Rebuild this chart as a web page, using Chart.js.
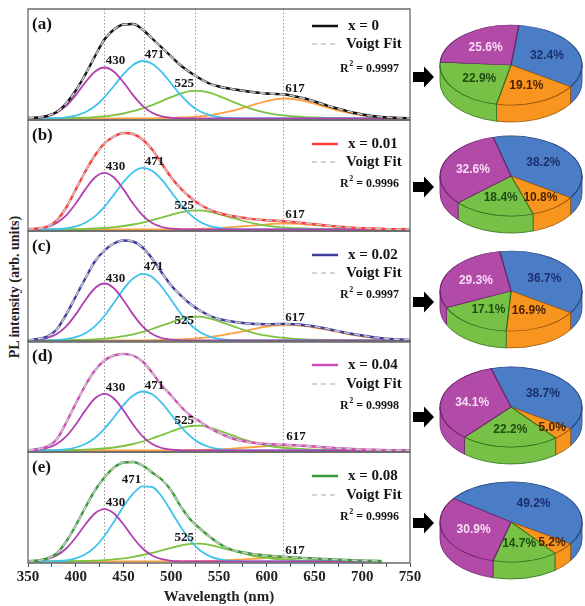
<!DOCTYPE html>
<html>
<head>
<meta charset="utf-8">
<script src="https://cdn.jsdelivr.net/npm/chart.js@4.4.0/dist/chart.umd.min.js"></script>
<style>
  html, body { margin: 0; padding: 0; background: #fff; }
  body { width: 585px; height: 606px; position: relative; overflow: hidden; }
  canvas { position: absolute; }
  #ytitle {
    position: absolute; left: 15px; top: 287px;
    transform: translate(-50%, -50%) rotate(-90deg);
    font: bold 14px "Liberation Serif", "Times New Roman", serif;
    color: #222; white-space: nowrap;
  }
</style>
</head>
<body>
<div id="ytitle">PL intensity (arb. units)</div>
<script>
// --- Data ---
const wavelength = [350,360,370,380,390,400,410,420,430,440,450,460,470,480,490,500,510,520,530,540,
  550,560,570,580,590,600,610,620,630,640,650,660,670,680,690,700,710,720,730,740,750];

const panelTags = ['(a)', '(b)', '(c)', '(d)', '(e)'];
const sampleNames = ['x = 0', 'x = 0.01', 'x = 0.02', 'x = 0.04', 'x = 0.08'];
const rSquared = ['0.9997', '0.9996', '0.9997', '0.9998', '0.9996'];
const peakNames = ['430', '471', '525', '617'];
const peakPos = [430, 471, 525, 617];

// (a) x = 0
const mainA = [0.5,1,2.5,6.5,15,28,44,62,79,89, 94,94.5,89,80,71,62,53,46,40,35, 32,30,28.5,27,26,25,24.5,24,22,20, 17,14,11,8.5,6,4,2.5,1.5,1,0.5, 0.3];
const p430A = [0.2,0.7,2.2,5.8,12.7,23.4,36.1,46.8,51,46.8, 36.1,23.4,12.7,5.8,2.2,0.7,0.2,0,0,0, 0,0,0,0,0,0,0,0,0,0, 0,0,0,0,0,0,0,0,0,0, 0];
const b471A = [0,0,0,0.4,1.2,2.9,6.3,12.2,21.2,32.5, 44.3,53.5,57.5,54.8,46.4,34.9,23.3,13.8,7.2,3.4, 1.4,0.5,0.2,0,0,0,0,0,0,0, 0,0,0,0,0,0,0,0,0,0, 0];
const g525A = [0,0,0,0,0.3,0.6,0.8,1.4,2.2,3.4, 5,7.3,10.1,13.4,17.4,21.3,24.9,27.4,27.7,25.8, 22.4,18.5,14.6,10.9,7.8,5.6,3.9,2.8,2,1.4, 1,0.7,0.4,0.3,0.1,0,0,0,0,0, 0];
const o617A = [0,0,0,0,0,0,0,0,0,0, 0,0,0,0.2,0.4,0.6,1,1.4,2.2,3.2, 4.8,6.8,9.2,12,14.8,17.4,19.4,20,19.2,17.4, 14.8,12,9.2,6.8,4.8,3.2,2,1.2,0.8,0.4, 0.2];

// (b) x = 0.01
const mainB = [0.3,1,3,9,22,40,58,74,86,93, 96.5,95.5,90,80,66,52,41,32,25,20, 16.5,14,12.5,11,10,9.2,8.7,8,7.2,6.3, 5.3,4.3,3.4,2.6,1.9,1.4,1,0.7,0.4,0.2, 0.1];
const p430B = [0.2,0.8,2.5,6.5,14.1,26,40.1,52,56.7,52, 40.1,26,14.1,6.5,2.5,0.8,0.2,0,0,0, 0,0,0,0,0,0,0,0,0,0, 0,0,0,0,0,0,0,0,0,0, 0];
const b471B = [0,0,0,0.4,1.2,3.1,6.8,13.1,22.7,34.9, 47.5,57.4,61.7,58.8,49.8,37.5,25,14.8,7.8,3.6, 1.5,0.6,0.2,0,0,0,0,0,0,0, 0,0,0,0,0,0,0,0,0,0, 0];
const g525B = [0,0,0,0,0.2,0.4,0.6,1,1.5,2.3, 3.5,5,6.9,9.3,12,14.7,17.2,18.9,19.1,17.8, 15.4,12.7,10,7.5,5.4,3.9,2.7,1.9,1.4,1, 0.7,0.5,0.3,0.2,0.1,0,0,0,0,0, 0];
const o617B = [0,0,0,0,0,0,0,0,0,0, 0,0,0,0.1,0.1,0.2,0.3,0.4,0.7,1, 1.4,2,2.8,3.6,4.4,5.2,5.8,6,5.8,5.2, 4.4,3.6,2.8,2,1.4,1,0.6,0.4,0.2,0.1, 0.1];

// (c) x = 0.02
const mainC = [0.3,1.5,4,11,26,44,62,79,90,97, 100,99,93,82,68,55,45,36.5,30,25, 21.5,19.5,18,17,16.5,16.2,16.5,16.6,16.2,15.3, 14,12.3,10.3,8.3,6.5,5,3.5,2.4,1.5,1, 0.5];
const p430C = [0.2,0.8,2.5,6.5,14.2,26.1,40.3,52.3,57,52.3, 40.3,26.1,14.2,6.5,2.5,0.8,0.2,0,0,0, 0,0,0,0,0,0,0,0,0,0, 0,0,0,0,0,0,0,0,0,0, 0];
const b471C = [0,0,0,0.5,1.3,3.3,7.3,14.1,24.5,37.7, 51.4,62,66.7,63.6,53.8,40.5,27,16,8.4,3.9, 1.6,0.6,0.2,0,0,0,0,0,0,0, 0,0,0,0,0,0,0,0,0,0, 0];
const g525C = [0,0,0,0,0.2,0.5,0.7,1.2,1.9,2.9, 4.3,6.2,8.6,11.5,14.9,18.2,21.4,23.5,23.8,22.1, 19.2,15.8,12.5,9.4,6.7,4.8,3.4,2.4,1.7,1.2, 0.8,0.6,0.4,0.2,0.1,0,0,0,0,0, 0];
const o617C = [0,0,0,0,0,0,0,0,0,0, 0,0,0,0.3,0.5,0.8,1.2,1.7,2.5,3.4, 4.8,6.5,8.2,10.2,12.2,14,15.2,15.7,15.3,14.4, 13,11.3,9.4,7.5,5.7,4.2,2.9,1.9,1.2,0.7, 0.4];

// (d) x = 0.04
const mainD = [0.3,1.5,4,11,28,47,65,80,90,95, 96.5,95,89,78,65,55,44,35,29,22.5, 17.5,13.5,10.5,8.5,7.3,6.5,6,5.7,5.2,4.7, 4,3.3,2.6,2,1.5,1.1,0.8,0.5,0.3,0.2, 0.1];
const p430D = [0.2,0.8,2.5,6.5,14.1,26,40.1,52,56.7,52, 40.1,26,14.1,6.5,2.5,0.8,0.2,0,0,0, 0,0,0,0,0,0,0,0,0,0, 0,0,0,0,0,0,0,0,0,0, 0];
const b471D = [0,0,0,0.4,1.2,3,6.5,12.5,21.7,33.3, 45.4,54.9,59,56.2,47.6,35.8,23.9,14.2,7.4,3.5, 1.4,0.5,0.2,0,0,0,0,0,0,0, 0,0,0,0,0,0,0,0,0,0, 0];
const g525D = [0,0,0,0,0.3,0.5,0.8,1.3,2,3, 4.5,6.5,9,12,15.5,19,22.3,24.5,24.8,23, 20,16.5,13,9.8,7,5,3.5,2.5,1.8,1.3, 0.9,0.6,0.4,0.3,0.1,0,0,0,0,0, 0];
const o617D = [0,0,0,0,0,0,0,0,0,0, 0,0,0,0,0.1,0.1,0.2,0.3,0.5,0.8, 1.2,1.7,2.3,3,3.7,4.3,4.8,5,4.8,4.3, 3.7,3,2.3,1.7,1.2,0.8,0.5,0.3,0.2,0.1, 0];

// (e) x = 0.08 (measured range stops near 725 nm)
const mainE = [0.3,1,3,8,20,36,54,71,84,94, 99,99.5,96,89,82,71,55,42,33,25, 18,13,10,8.2,7,6,5.2,4.6,4,3.5, 3,2.5,2.1,1.7,1.3,1,0.7,0.5,null,null, null];
const p430E = [0.2,0.7,2.3,6,13,24,37,48,52.3,48, 37,24,13,6,2.3,0.7,0.2,0,0,0, 0,0,0,0,0,0,0,0,0,0, 0,0,0,0,0,0,0,0,null,null, null];
const b471E = [0,0,0,0.4,1.2,3.2,7.2,14.3,25.5,39.8, 55,67.8,75.2,74.5,65,50,34.5,21,11.3,5.4, 2.3,0.9,0.3,0,0,0,0,0,0,0, 0,0,0,0,0,0,0,0,null,null, null];
const g525E = [0,0,0,0,0.2,0.4,0.5,0.9,1.4,2.2, 3.2,4.7,6.5,8.6,11.2,13.7,16,17.6,17.8,16.6, 14.4,11.9,9.4,7,5,3.6,2.5,1.8,1.3,0.9, 0.6,0.5,0.3,0.2,0.1,0,0,0,null,null, null];
const o617E = [0,0,0,0,0,0,0,0,0,0, 0,0,0,0,0.1,0.1,0.2,0.3,0.4,0.6, 1,1.4,1.8,2.4,3,3.5,3.9,4,3.8,3.5, 3,2.4,1.8,1.4,1,0.6,0.4,0.2,null,null, null];

// Pie shares (%) per sample: 471 / 617 / 525 / 430 components
const pieBlue = [32.4, 38.2, 36.7, 38.7, 49.2];
const pieOrange = [19.1, 10.8, 16.9, 5.0, 5.2];
const pieGreen = [22.9, 18.4, 17.1, 22.2, 14.7];
const piePurple = [25.6, 32.6, 29.3, 34.1, 30.9];

// --- Styles / layout ---
const SERIF = '"Liberation Serif", "Times New Roman", serif';
const SANS = '"Liberation Sans", Arial, sans-serif';
const mainColors = ['#111111', '#ff3b3b', '#3c3c9e', '#d04cb8', '#3a9a3a'];
const compColors = ['#b040b0', '#3ec2ee', '#7cc342', '#ffa040'];
const panelTop = [9, 120, 231, 341, 452];
const legendRows = [[17, 35, 60], [24, 42, 64], [24, 42, 64], [24, 43, 65], [24, 43, 65]];
const labelDx = [[11, 11, -11, 12], [11, 11, -11, 12], [11, 10, -11, 12], [11, 11, -11, 13], [11, -12, -11, 12]];
const labelDy = [[-6.5, -6, -7.5, -9.5], [-6, -6, -5, -9], [-4.5, -7, 3.5, -7], [-6, -5.5, -5.5, -8.5], [-7, -7, -6.5, -6.5]];

const mainSeries = [mainA, mainB, mainC, mainD, mainE];
const compSeries = [
  [p430A, b471A, g525A, o617A],
  [p430B, b471B, g525B, o617B],
  [p430C, b471C, g525C, o617C],
  [p430D, b471D, g525D, o617D],
  [p430E, b471E, g525E, o617E]
];

function lineSet(values, color, width, order, dash) {
  return {
    data: values.map((v, i) => ({x: wavelength[i], y: v})),
    borderColor: color,
    borderWidth: width,
    borderDash: dash || [],
    pointRadius: 0,
    fill: false,
    cubicInterpolationMode: 'monotone',
    order: order
  };
}

const panelDeco = {
  id: 'panelDeco',
  beforeDatasetsDraw(chart) {
    const {ctx, chartArea: a, scales: {x}} = chart;
    ctx.save();
    ctx.strokeStyle = '#9a9a9a';
    ctx.lineWidth = 1;
    ctx.setLineDash([1.5, 2]);
    peakPos.forEach(p => {
      const px = Math.round(x.getPixelForValue(p)) + 0.5;
      ctx.beginPath();
      ctx.moveTo(px, a.top);
      ctx.lineTo(px, a.bottom);
      ctx.stroke();
    });
    ctx.restore();
  },
  afterDraw(chart, args, opts) {
    const i = opts.idx;
    const {ctx, chartArea: a, scales: {x, y}} = chart;
    ctx.save();
    // frame
    ctx.setLineDash([]);
    ctx.strokeStyle = '#6a6a6a';
    ctx.lineWidth = 1.3;
    ctx.beginPath();
    ctx.moveTo(a.left, a.top);
    ctx.lineTo(a.right, a.top);
    ctx.lineTo(a.right, a.bottom);
    ctx.lineTo(a.left, a.bottom);
    ctx.closePath();
    ctx.stroke();

    // panel tag
    ctx.fillStyle = '#151515';
    ctx.textBaseline = 'middle';
    ctx.textAlign = 'left';
    ctx.font = 'bold 17px ' + SERIF;
    ctx.fillText(panelTags[i], a.left + 4, a.top + 16);

    // peak labels above each component
    ctx.font = 'bold 13px ' + SERIF;
    ctx.textAlign = 'center';
    compSeries[i].forEach((vals, k) => {
      const peak = Math.max(...vals.filter(v => v !== null));
      const lx = x.getPixelForValue(peakPos[k]) + labelDx[i][k];
      const ly = y.getPixelForValue(peak) + labelDy[i][k];
      ctx.fillText(peakNames[k], lx, ly);
    });

    // legend
    const rows = legendRows[i].map(r => a.top + r);
    ctx.lineWidth = 2.5;
    ctx.strokeStyle = mainColors[i];
    ctx.beginPath(); ctx.moveTo(312, rows[0]); ctx.lineTo(338, rows[0]); ctx.stroke();
    ctx.lineWidth = 1.6;
    ctx.strokeStyle = '#c4c4c4';
    ctx.setLineDash([5, 4]);
    ctx.beginPath(); ctx.moveTo(312, rows[1]); ctx.lineTo(338, rows[1]); ctx.stroke();
    ctx.setLineDash([]);
    ctx.textAlign = 'left';
    ctx.font = 'bold 15px ' + SERIF;
    ctx.fillText(sampleNames[i], 348, rows[0]);
    ctx.fillText('Voigt Fit', 346, rows[1]);
    ctx.font = 'bold 12px ' + SERIF;
    let rx = 340;
    ctx.fillText('R', rx, rows[2]);
    rx += ctx.measureText('R').width + 0.5;
    ctx.font = 'bold 8px ' + SERIF;
    ctx.fillText('2', rx, rows[2] - 5);
    rx += ctx.measureText('2').width;
    ctx.font = 'bold 12px ' + SERIF;
    ctx.fillText(' = ' + rSquared[i], rx, rows[2]);
    ctx.restore();
  }
};

function addCanvas(left, top, w, h) {
  const c = document.createElement('canvas');
  c.width = w; c.height = h;
  c.style.left = left + 'px';
  c.style.top = top + 'px';
  document.body.appendChild(c);
  return c;
}

// --- Line panels ---
panelTop.forEach((top, i) => {
  const isLast = i === panelTop.length - 1;
  const canvas = addCanvas(0, top - 2, 430, isLast ? 606 - (top - 2) : 115);
  const datasets = [
    lineSet(mainSeries[i], '#c8c8c8', 1.6, 0, [6, 4]),
    lineSet(mainSeries[i], mainColors[i], 2.4, 1)
  ];
  compSeries[i].forEach((vals, k) => datasets.push(lineSet(vals, compColors[k], 1.8, 2 + k)));

  const xScale = {
    type: 'linear', min: 350, max: 750, display: isLast,
    border: {display: false},
    grid: {display: true, drawOnChartArea: false, drawTicks: true, tickLength: 4, color: '#555'},
    ticks: {
      stepSize: 25, autoSkip: false, maxRotation: 0, padding: 1, color: '#222',
      font: {family: SERIF, size: 15, weight: 'bold'},
      callback: v => (v % 50 === 0 ? v : '')
    },
    title: {
      display: true, text: 'Wavelength (nm)', color: '#222',
      font: {family: SERIF, size: 15, weight: 'bold'},
      padding: {top: 3, bottom: 0}
    }
  };
  if (isLast) xScale.afterFit = s => { s.height = 43; };

  new Chart(canvas, {
    type: 'line',
    data: {datasets: datasets},
    options: {
      responsive: false,
      animation: false,
      events: [],
      layout: {padding: {left: 28, right: 20, top: 2, bottom: isLast ? 0 : 2}},
      scales: {
        x: xScale,
        y: {display: false, min: -1.5, max: 109.5}
      },
      plugins: {legend: {display: false}, tooltip: {enabled: false}, panelDeco: {idx: i}}
    },
    plugins: [panelDeco]
  });
});

// --- 3D-looking pies ---
const pieCenterY = [65, 176, 291, 407, 522];
const arrowY = [77, 187, 302, 417, 523];
const pieColors = ['#4a7dc6', '#f7951f', '#76c146', '#b24aa8'];
const pieBorders = ['#22407e', '#9a5608', '#2e6e1c', '#6b2068'];
const pieTextColors = ['#1c2f6e', '#4a2200', '#1d4d12', '#f8dcf4'];

const pie3d = {
  id: 'pie3d',
  beforeDatasetsDraw(chart, args, opts) {
    const {ctx} = chart;
    const arcs = chart.getDatasetMeta(0).data;
    const cx = arcs[0].x, cy = arcs[0].y;
    ctx.save();
    ctx.translate(cx, cy);
    ctx.scale(1, opts.squash);
    ctx.translate(-cx, -cy);
    const d = opts.depth / opts.squash;
    arcs.forEach(arc => {
      const r = arc.outerRadius;
      for (let k = -1; k <= 1; k++) {
        const lo = Math.max(arc.startAngle, 2 * Math.PI * k);
        const hi = Math.min(arc.endAngle, 2 * Math.PI * k + Math.PI);
        if (hi <= lo) continue;
        ctx.beginPath();
        ctx.arc(cx, cy, r, lo, hi);
        ctx.lineTo(cx + r * Math.cos(hi), cy + d + r * Math.sin(hi));
        ctx.arc(cx, cy + d, r, hi, lo, true);
        ctx.closePath();
        ctx.fillStyle = arc.options.backgroundColor;
        ctx.fill();
        ctx.lineWidth = 1;
        ctx.strokeStyle = arc.options.borderColor;
        ctx.stroke();
      }
    });
  },
  afterDatasetsDraw(chart, args, opts) {
    const {ctx} = chart;
    ctx.restore();
    const arcs = chart.getDatasetMeta(0).data;
    const values = chart.data.datasets[0].data;
    ctx.save();
    ctx.font = 'bold 12px ' + SANS;
    ctx.textAlign = 'center';
    ctx.textBaseline = 'middle';
    arcs.forEach((arc, k) => {
      const mid = (arc.startAngle + arc.endAngle) / 2;
      const f = values[k] < 8 ? 0.78 : (values[k] < 12 ? 0.68 : 0.56);
      const lx = arc.x + arc.outerRadius * f * Math.cos(mid);
      const ly = arc.y + arc.outerRadius * f * Math.sin(mid) * opts.squash;
      ctx.fillStyle = pieTextColors[k];
      ctx.fillText(values[k].toFixed(1) + '%', lx, ly);
    });
    // arrow pointing to the pie
    const ay = opts.arrowY;
    ctx.fillStyle = '#000';
    ctx.beginPath();
    ctx.moveTo(8, ay - 5);
    ctx.lineTo(19, ay - 5);
    ctx.lineTo(19, ay - 10.5);
    ctx.lineTo(29, ay);
    ctx.lineTo(19, ay + 10.5);
    ctx.lineTo(19, ay + 5);
    ctx.lineTo(8, ay + 5);
    ctx.closePath();
    ctx.fill();
    ctx.restore();
  }
};

pieCenterY.forEach((cy, i) => {
  const top = cy - 70;
  const canvas = addCanvas(405, top, 180, 150);
  const shares = [pieBlue[i], pieOrange[i], pieGreen[i], piePurple[i]];
  new Chart(canvas, {
    type: 'pie',
    data: {
      labels: ['471', '617', '525', '430'],
      datasets: [{
        data: shares,
        backgroundColor: pieColors,
        borderColor: pieBorders,
        borderWidth: 1.2
      }]
    },
    options: {
      responsive: false,
      animation: false,
      events: [],
      radius: 71,
      rotation: 123 - pieBlue[i] * 3.6,
      layout: {padding: {left: 32, bottom: 10}},
      plugins: {
        legend: {display: false},
        tooltip: {enabled: false},
        pie3d: {squash: 40 / 71, depth: 17, arrowY: arrowY[i] - top}
      }
    },
    plugins: [pie3d]
  });
});
</script>
</body>
</html>
